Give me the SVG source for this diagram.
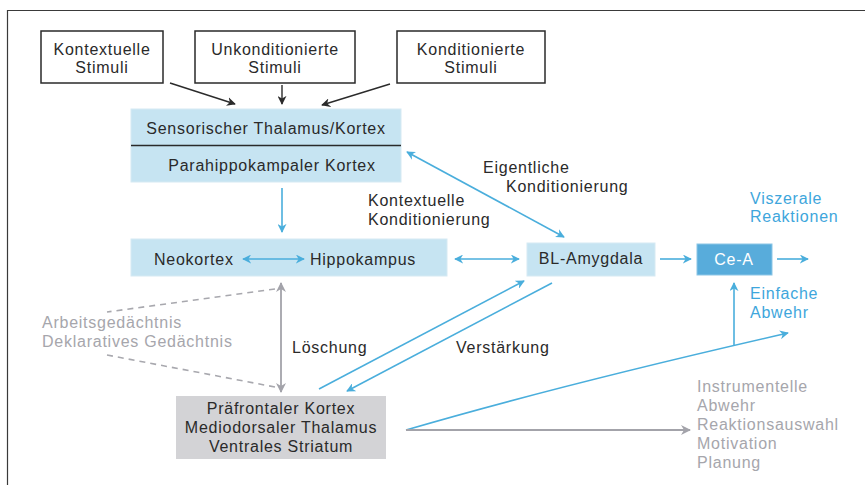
<svg xmlns="http://www.w3.org/2000/svg" width="865" height="485" viewBox="0 0 865 485">
<defs>
<marker id="ak" viewBox="0 0 10 10" refX="9" refY="5" markerWidth="9" markerHeight="9" markerUnits="userSpaceOnUse" orient="auto-start-reverse"><path d="M0,0 L10,5 L0,10 L3,5 z" fill="#2b2b2b"/></marker>
<marker id="ab" viewBox="0 0 10 10" refX="9" refY="5" markerWidth="9" markerHeight="9" markerUnits="userSpaceOnUse" orient="auto-start-reverse"><path d="M0,0 L10,5 L0,10 L3,5 z" fill="#4aaedc"/></marker>
<marker id="ag" viewBox="0 0 10 10" refX="9" refY="5" markerWidth="10" markerHeight="10" markerUnits="userSpaceOnUse" orient="auto-start-reverse"><path d="M0,0 L10,5 L0,10 L3,5 z" fill="#a3a3aa"/></marker>
</defs>
<style>
text{font-family:"Liberation Sans",Arial,sans-serif;font-size:16px;fill:#2a2a2a;letter-spacing:0.75px}
.c{text-anchor:middle}
.w{fill:#ffffff}
.b{fill:#3ea6dc}
.g{fill:#a6a6ac}
.stim{fill:#ffffff;stroke:#2a2a2a;stroke-width:1.5}
.lb{fill:#c6e4f2;stroke:#d6eaf3;stroke-width:1}
.k{stroke:#2b2b2b;stroke-width:1.4;fill:none}
.bl{stroke:#4aaedc;stroke-width:1.6;fill:none}
.gr{stroke:#a3a3aa;stroke-width:1.8;fill:none}
.gd{stroke:#a8a8ae;stroke-width:1.6;fill:none;stroke-dasharray:6,5}
</style>
<rect x="0" y="0" width="865" height="485" fill="#ffffff"/>
<path d="M7.5,485 V10.5 H865" fill="none" stroke="#3a3a3a" stroke-width="1.2"/>

<g id="kontextuelle-stimuli"><rect class="stim" x="41" y="31" width="122" height="52"/><text class="c" x="102" y="55">Kontextuelle</text><text class="c" x="102" y="73">Stimuli</text></g>
<g id="unkonditionierte-stimuli"><rect class="stim" x="195" y="31" width="160" height="52"/><text class="c" x="275" y="55">Unkonditionierte</text><text class="c" x="275" y="73">Stimuli</text></g>
<g id="konditionierte-stimuli"><rect class="stim" x="397" y="31" width="148" height="52"/><text class="c" x="471" y="55">Konditionierte</text><text class="c" x="471" y="73">Stimuli</text></g>

<g id="sensorischer-thalamus"><rect class="lb" x="131" y="109" width="270" height="73"/><line x1="131" y1="145.5" x2="401" y2="145.5" stroke="#2a2a2a" stroke-width="1.4"/><text class="c" x="266" y="134">Sensorischer Thalamus/Kortex</text><text class="c" x="272" y="171">Parahippokampaler Kortex</text></g>

<g id="neokortex-hippokampus"><rect class="lb" x="131" y="239" width="316" height="37"/><text x="154" y="265">Neokortex</text><text x="310" y="265">Hippokampus</text></g>

<g id="bl-amygdala"><rect class="lb" x="527" y="243" width="128" height="33"/><text class="c" x="591" y="264">BL-Amygdala</text></g>

<g id="ce-a"><rect x="697" y="244" width="75" height="31" fill="#58acdb" stroke="#8cc6e6" stroke-width="1"/><text class="c w" x="734" y="265">Ce-A</text></g>

<g id="praefrontaler-kortex"><rect x="176" y="396" width="210" height="63" fill="#d3d3d6"/><text class="c" x="281" y="414">Präfrontaler Kortex</text><text class="c" x="281" y="433">Mediodorsaler Thalamus</text><text class="c" x="281" y="452">Ventrales Striatum</text></g>

<g id="labels">
<text x="483" y="173">Eigentliche</text>
<text x="506" y="192">Konditionierung</text>
<text x="368" y="206">Kontextuelle</text>
<text x="368" y="225">Konditionierung</text>
<text class="b" x="750" y="204">Viszerale</text>
<text class="b" x="750" y="222">Reaktionen</text>
<text class="b" x="750" y="299">Einfache</text>
<text class="b" x="750" y="318">Abwehr</text>
<text class="g" x="42" y="328">Arbeitsgedächtnis</text>
<text class="g" x="42" y="347">Deklaratives Gedächtnis</text>
<text x="292" y="353">Löschung</text>
<text x="456" y="353">Verstärkung</text>
<text class="g" x="697" y="392">Instrumentelle</text>
<text class="g" x="697" y="411">Abwehr</text>
<text class="g" x="697" y="430">Reaktionsauswahl</text>
<text class="g" x="697" y="449">Motivation</text>
<text class="g" x="697" y="468">Planung</text>
</g>

<g id="connectors">
<line class="k" x1="170" y1="83" x2="235" y2="104" marker-end="url(#ak)"/>
<line class="k" x1="282" y1="85" x2="282" y2="104" marker-end="url(#ak)"/>
<line class="k" x1="390" y1="84" x2="322" y2="105" marker-end="url(#ak)"/>
<line class="bl" x1="282" y1="188" x2="282" y2="232" marker-end="url(#ab)"/>
<line class="bl" x1="243" y1="259" x2="304" y2="259" marker-start="url(#ab)" marker-end="url(#ab)"/>
<line class="bl" x1="455" y1="259" x2="519" y2="259" marker-start="url(#ab)" marker-end="url(#ab)"/>
<line class="bl" x1="660" y1="259" x2="691" y2="259" marker-end="url(#ab)"/>
<line class="bl" x1="777" y1="259" x2="808" y2="259" marker-end="url(#ab)"/>
<line class="bl" x1="407" y1="152" x2="564" y2="237" marker-start="url(#ab)" marker-end="url(#ab)"/>
<line class="bl" x1="319" y1="389" x2="524" y2="281" marker-end="url(#ab)"/>
<line class="bl" x1="552" y1="283" x2="347" y2="391" marker-end="url(#ab)"/>
<line class="bl" x1="734" y1="346" x2="734" y2="283" marker-end="url(#ab)"/>
<path class="bl" d="M406,430 Q560,385 788,333" marker-end="url(#ab)"/>
<line class="gr" x1="406" y1="430" x2="690" y2="430" marker-end="url(#ag)"/>
<line class="gr" x1="281" y1="283" x2="281" y2="392" marker-start="url(#ag)" marker-end="url(#ag)"/>
<line class="gd" x1="275" y1="289" x2="107" y2="312"/>
<line class="gd" x1="107" y1="355" x2="275" y2="387"/>
</g>
</svg>
